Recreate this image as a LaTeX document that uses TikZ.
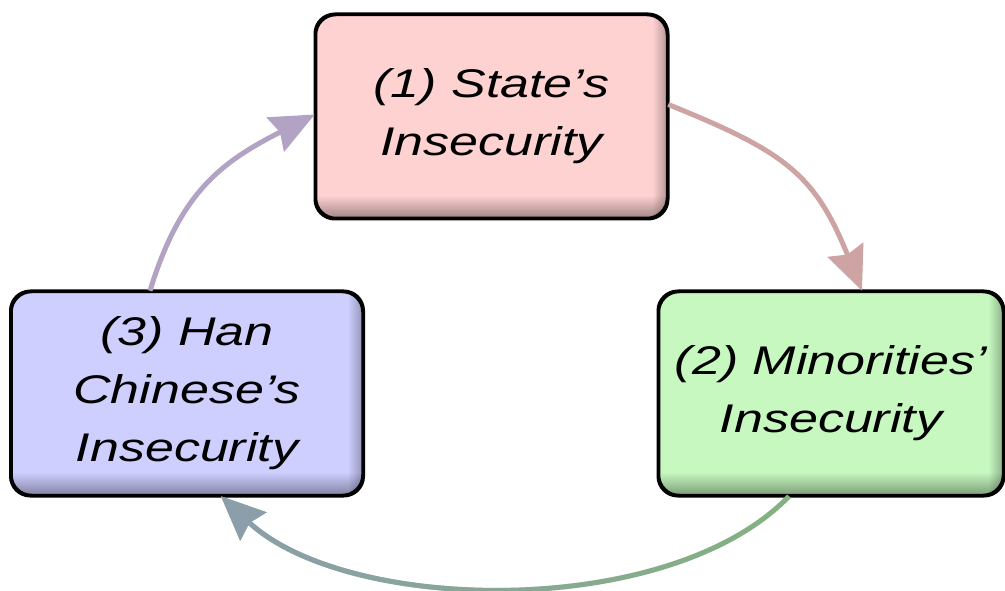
\documentclass[tikz,border=0pt]{standalone}
\usepackage{fontspec}
\setmainfont{Liberation Sans}[FakeStretch=1.3]
\usepackage{tikz}
\usetikzlibrary{arrows.meta}
\usetikzlibrary{fadings}
\definecolor{statefill}{RGB}{255,210,210}
\definecolor{minorfill}{RGB}{198,248,192}
\definecolor{hanfill}{RGB}{206,206,255}
\definecolor{statearrow}{RGB}{205,163,163}
\definecolor{minorarrow}{RGB}{132,178,128}
\definecolor{hanarrow}{RGB}{178,162,196}
\definecolor{tiparrow}{RGB}{140,158,172}
\tikzset{
    box/.style={draw=black, line width=2.5pt, rounded corners=20pt,
        minimum width=351pt, minimum height=203pt, inner sep=0pt, align=center,
        font=\fontsize{40}{58}\selectfont\itshape},
    cycle/.style={line width=5pt, -{Stealth[length=44pt, width=38pt, inset=5pt]}}
}

\begin{document}
\begin{tikzpicture}[x=1pt, y=1pt]
\useasboundingbox (0,0) rectangle (1005,590);
\node[style={box}, fill=statefill] (state) at (491.5,473.5) {(1) State’s\\Insecurity};
\node[style={box}, fill=minorfill, minimum width=344pt] (minor) at (831,196.5) {(2) Minorities’\\Insecurity};
\node[style={box}, fill=hanfill] (han) at (187,196.5) {(3) Han\\Chinese’s\\Insecurity};
% darker edge at bottom and right of each box
\foreach \n in {state,minor,han}{
  \begin{scope}
    \clip[rounded corners=20pt] (\n.south west) rectangle (\n.north east);
    \fill[black, opacity=0.38, path fading=north]
      (\n.south west) rectangle ([yshift=24pt]\n.south east);
    \fill[black, opacity=0.3, path fading=west]
      ([xshift=-16pt]\n.south east) rectangle (\n.north east);
  \end{scope}
  \draw[line width=2.5pt, rounded corners=20pt] (\n.south west) rectangle (\n.north east);
}
\draw[style={cycle}, statearrow]
  ([yshift=12pt]state.east) to[out=-22, in=112, looseness=1.2] ([xshift=31pt]minor.north);
\draw[style={cycle}, minorarrow]
  ([xshift=-42pt]minor.south) to[out=226, in=-43, looseness=0.78] ([xshift=34pt]han.south);
\draw[style={cycle}, tiparrow, path fading=east]
  ([xshift=-42pt]minor.south) to[out=226, in=-43, looseness=0.78] ([xshift=34pt]han.south);
\draw[style={cycle}, hanarrow]
  ([xshift=-37pt]han.north) to[out=73, in=207, looseness=1.1] ([yshift=2pt]state.west);
\end{tikzpicture}
\end{document}
